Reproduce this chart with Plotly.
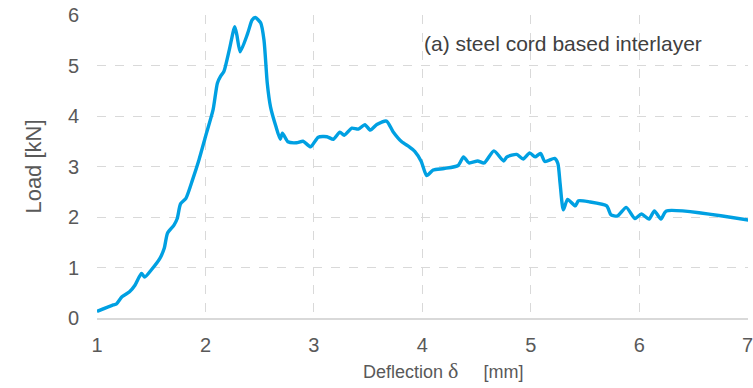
import plotly.graph_objects as go

deflection = [1.00, 1.15, 1.18, 1.23, 1.30, 1.35, 1.41, 1.44, 1.50, 1.58, 1.62, 1.65, 1.71, 1.74, 1.77,
              1.82, 1.88, 1.94, 2.00, 2.07, 2.11, 2.14, 2.17, 2.22, 2.27, 2.29, 2.32, 2.39, 2.43, 2.46,
              2.51, 2.54, 2.57, 2.60, 2.65, 2.69, 2.71, 2.76, 2.84, 2.90, 2.97, 3.04, 3.12, 3.18, 3.24,
              3.28, 3.35, 3.41, 3.47, 3.52, 3.58, 3.67, 3.73, 3.81, 3.88, 3.93, 3.99, 4.04, 4.10, 4.20,
              4.33, 4.38, 4.43, 4.51, 4.57, 4.66, 4.75, 4.78, 4.87, 4.93, 4.99, 5.04, 5.09, 5.13, 5.22,
              5.25, 5.27, 5.30, 5.34, 5.41, 5.44, 5.54, 5.70, 5.74, 5.80, 5.88, 5.96, 6.02, 6.09, 6.14,
              6.20, 6.25, 7.01]
load = [0.13, 0.26, 0.28, 0.42, 0.52, 0.65, 0.88, 0.81, 0.95, 1.18, 1.38, 1.68, 1.84, 1.97, 2.26,
        2.37, 2.73, 3.13, 3.59, 4.12, 4.65, 4.79, 4.88, 5.31, 5.77, 5.60, 5.27, 5.64, 5.90, 5.95,
        5.84, 5.50, 4.65, 4.18, 3.79, 3.54, 3.66, 3.49, 3.47, 3.50, 3.39, 3.58, 3.59, 3.54, 3.68,
        3.62, 3.76, 3.74, 3.83, 3.72, 3.83, 3.90, 3.69, 3.49, 3.39, 3.30, 3.10, 2.82, 2.93, 2.96,
        3.02, 3.19, 3.07, 3.11, 3.07, 3.31, 3.11, 3.19, 3.24, 3.15, 3.27, 3.19, 3.26, 3.10, 3.16,
        3.06, 2.67, 2.14, 2.35, 2.22, 2.32, 2.30, 2.22, 2.04, 2.02, 2.19, 1.97, 2.06, 1.96, 2.12,
        1.96, 2.12, 1.94]

x_ticks = [1, 2, 3, 4, 5, 6, 7]
y_ticks = [0, 1, 2, 3, 4, 5, 6]
label_text = "(a) steel cord based interlayer"
NB = "\u00a0"
x_title = ('Deflection' + NB + '<span style="font-family:Liberation Serif;font-size:22px">δ</span>'
           + NB * 5 + '[mm]')
y_title = "Load [kN]"

FONT = "Liberation Sans"

fig = go.Figure()
fig.add_trace(go.Scatter(
    x=deflection, y=load, mode="lines",
    line=dict(color="#00a0e2", width=3.4, shape="spline", smoothing=0.6),
    showlegend=False, hoverinfo="skip",
))

fig.add_annotation(
    x=5.30, y=5.43, xref="x", yref="y", text=label_text, showarrow=False,
    font=dict(family=FONT, size=21, color="#404040"),
)

# x-axis title
fig.add_annotation(
    x=0.532, y=-0.172, xref="paper", yref="paper", xanchor="center", yanchor="middle",
    text=x_title, showarrow=False,
    font=dict(family=FONT, size=18, color="#595959"),
)

fig.update_layout(
    width=753, height=388,
    margin=dict(l=97, r=0, t=15, b=70),
    paper_bgcolor="white", plot_bgcolor="white",
    font=dict(family=FONT, size=20, color="#595959"),
    xaxis=dict(
        range=[1, 7.003], tickvals=x_ticks, ticktext=[str(v) for v in x_ticks],
        showgrid=True, gridcolor="#d9d9d9", griddash="dash", gridwidth=1.2,
        showline=True, linecolor="#d9d9d9", linewidth=1.5,
        zeroline=False, ticks="", ticklabelstandoff=8, ticklabeloverflow="allow",
    ),
    yaxis=dict(
        range=[0, 6], tickvals=y_ticks, ticktext=[str(v) for v in y_ticks],
        showgrid=True, gridcolor="#d9d9d9", griddash="dash", gridwidth=1.2,
        showline=False, zeroline=False, ticks="", ticklabelstandoff=17,
        title=dict(text=y_title, font=dict(family=FONT, size=22, color="#595959"), standoff=20),
    ),
)

fig.write_html("out.html")
